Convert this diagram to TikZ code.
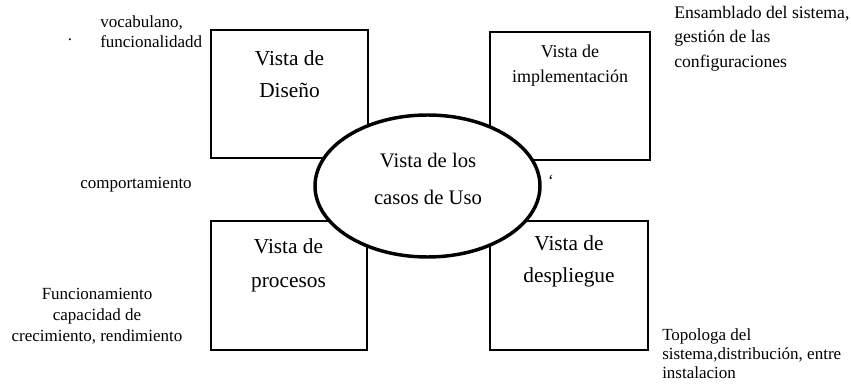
\documentclass[tikz,border=0pt]{standalone}
\usepackage{fontspec}
\setmainfont{Liberation Serif}
\usepackage{tikz}

\begin{document}
\begin{tikzpicture}[x=0.75pt,y=0.75pt,yscale=-1,xscale=1,
  caja/.style={line width=1.8pt},
  nota/.style={inner sep=0pt,font=\fontsize{12.75}{15}\selectfont}]
\useasboundingbox (0,0) rectangle (851,388);

%Shape: Rectangle [Diseno]
\draw  [caja] (211,30) rectangle (368,158) ;
%Shape: Rectangle [Implementacion]
\draw  [caja] (490,32) rectangle (650,160) ;
%Shape: Rectangle [Procesos]
\draw  [caja] (211,221) rectangle (367,350) ;
%Shape: Rectangle [Despliegue]
\draw  [caja] (490,221) rectangle (648,350) ;
%Shape: Ellipse [Casos de Uso]
\draw  [line width=2.6pt,fill=white] (427.5,186) ellipse (112.5 and 71) ;

% Text Node
\draw (289.5,74) node (diseno) [inner sep=0pt,align=center,font=\fontsize{16}{24}\selectfont] {Vista de\\Diseño};
% Text Node
\draw (570,65.5) node (implem) [inner sep=0pt,align=center,font=\fontsize{13.5}{18.75}\selectfont] {Vista de\\implementación};
% Text Node
\draw (288.5,265.5) node (procesos) [inner sep=0pt,align=center,font=\fontsize{16}{26}\selectfont] {Vista de\\procesos};
% Text Node
\draw (569,261) node (desplieg) [inner sep=0pt,align=center,font=\fontsize{16}{24}\selectfont] {Vista de\\despliegue};
% Text Node
\draw (428,178.5) node (casos) [inner sep=0pt,align=center,font=\fontsize{15.5}{27.75}\selectfont] {Vista de los\\casos de Uso};

% Text Node
\draw (100,32) node (vocab) [nota,anchor=west,align=left] {vocabulano,\\funcionalidadd};
% Text Node
\draw (70,40) node (punto) [nota] {.};
% Text Node
\draw (136,185) node (comport) [nota] {comportamiento};
% Text Node
\draw (674,38.5) node (ensam) [nota,anchor=west,align=left,font=\fontsize{13.25}{18.4}\selectfont] {Ensamblado del sistema,\\gestión de las\\configuraciones};
% Text Node
\draw (551,181) node (tilde) [nota] {`};
% Text Node
\draw (97,316) node (funcion) [nota,align=center,font=\fontsize{12.75}{15.75}\selectfont] {Funcionamiento\\capacidad de\\crecimiento, rendimiento};
% Text Node
\draw (662,354) node (topolo) [nota,anchor=west,align=left,font=\fontsize{12.75}{14.25}\selectfont] {Topologa del\\sistema,distribución, entre\\instalacion};

\end{tikzpicture}
\end{document}
